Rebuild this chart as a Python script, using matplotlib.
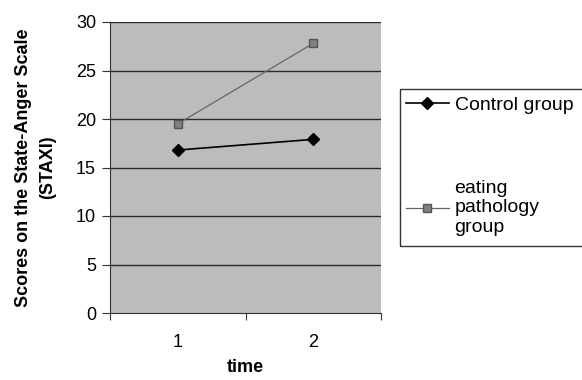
import matplotlib.pyplot as plt
from matplotlib.patches import Rectangle

plt.rcParams['font.family'] = ['Liberation Sans', 'DejaVu Sans']

time_points = [1, 2]
control_group = [16.8, 17.9]
eating_group = [19.5, 27.8]
y_ticks = [0, 5, 10, 15, 20, 25, 30]

W, H = 582, 380
fig = plt.figure(figsize=(W / 100, H / 100), dpi=100)
# plot area in pixels: left 110, right 381, top 22, bottom 313
ax = fig.add_axes([110 / W, 1 - 313 / H, (381 - 110) / W, (313 - 22) / H])
ax.set_facecolor('#bcbcbc')

for y in y_ticks[1:]:
    ax.axhline(y, color='#2a2a2a', lw=1.0, zorder=1)

l1, = ax.plot(time_points, control_group, color='black', lw=1.2, marker='D',
              markersize=6, markerfacecolor='black', zorder=3, label='Control group')
l2, = ax.plot(time_points, eating_group, color='#666666', lw=0.9, marker='s',
              markersize=6, markerfacecolor='#808080', markeredgecolor='#555555',
              zorder=3, label='eating\npathology\ngroup')

ax.set_xlim(0.5, 2.5)
ax.set_ylim(0, 30)
ax.set_yticks(y_ticks)
ax.set_xticks([0.5, 1.5, 2.5])
ax.set_xticklabels([])
ax.set_xticks([1, 2], minor=True)
ax.set_xticklabels(['1', '2'], minor=True)
ax.tick_params(axis='x', which='minor', length=0, pad=15, labelsize=13)
ax.tick_params(axis='x', which='major', direction='out', length=5, color='#333333')
ax.tick_params(axis='y', direction='out', length=6, labelsize=13, pad=4, color='#333333')

for side in ['top', 'right']:
    ax.spines[side].set_visible(False)
for side in ['left', 'bottom']:
    ax.spines[side].set_color('#333333')

ax.set_xlabel('time', fontsize=13, fontweight='bold', labelpad=6)
ax.set_ylabel('Scores on the State-Anger Scale\n(STAXI)', fontsize=13,
              fontweight='bold', labelpad=14, linespacing=1.6)

# legend frame (clipped at right edge of the figure)
fig.patches.append(Rectangle((400 / W, 1 - 246 / H), (600 - 400) / W, (246 - 89) / H,
                             transform=fig.transFigure, fill=False,
                             edgecolor='#333333', lw=1.0))
fig.legend(handles=[l1, l2], loc='upper left',
           bbox_to_anchor=(406 / W, 1 - 96 / H), frameon=False,
           fontsize=14, labelspacing=3.4, handlelength=2.2,
           handletextpad=0.3, borderaxespad=0, borderpad=0)

fig.savefig('out.png', dpi=100)
